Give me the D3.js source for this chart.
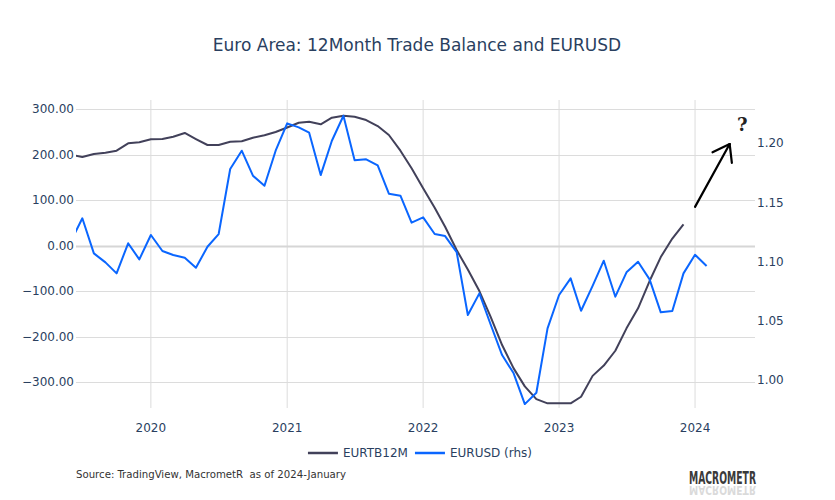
<!DOCTYPE html>
<html>
<head>
<meta charset="utf-8">
<script src="https://cdn.jsdelivr.net/npm/d3@7"></script>
<style>
  html, body { margin: 0; padding: 0; background: #fff; }
  svg { display: block; font-family: "DejaVu Sans", Verdana, sans-serif; }
</style>
</head>
<body>
<svg id="chart" width="835" height="500"></svg>
<script>
// ---------------- DATA ----------------
const usdMonths = [
  "2019-06","2019-07","2019-08","2019-09","2019-10","2019-11","2019-12",
  "2020-01","2020-02","2020-03","2020-04","2020-05","2020-06","2020-07","2020-08","2020-09","2020-10","2020-11","2020-12",
  "2021-01","2021-02","2021-03","2021-04","2021-05","2021-06","2021-07","2021-08","2021-09","2021-10","2021-11","2021-12",
  "2022-01","2022-02","2022-03","2022-04","2022-05","2022-06","2022-07","2022-08","2022-09","2022-10","2022-11","2022-12",
  "2023-01","2023-02","2023-03","2023-04","2023-05","2023-06","2023-07","2023-08","2023-09","2023-10","2023-11","2023-12",
  "2024-01","2024-02"
];
const eurusd = [
  1.1176, 1.1366, 1.1070, 1.0994, 1.0901, 1.1155, 1.1019,
  1.1225, 1.1090, 1.1056, 1.1033, 1.0948, 1.1126, 1.1233, 1.1782, 1.1937, 1.1726, 1.1641, 1.1937,
  1.2168, 1.2134, 1.2089, 1.1731, 1.2021, 1.2232, 1.1856, 1.1864, 1.1813, 1.1574, 1.1557, 1.1329,
  1.1374, 1.1233, 1.1216, 1.1081, 1.0549, 1.0732, 1.0471, 1.0211, 1.0057, 0.9797, 0.9893, 1.0437,
  1.0718, 1.0859, 1.0585, 1.0796, 1.1008, 1.0704, 1.0910, 1.0999, 1.0850, 1.0572, 1.0583, 1.0901,
  1.1058, 1.0963
];
const tbMonths = usdMonths.slice(0, 55); // 2019-06 .. 2023-12
const eurtb12m = [
  199.6, 194.5, 201.0, 204.0, 208.4, 224.6, 226.8,
  233.4, 234.0, 239.1, 247.3, 234.0, 220.9, 220.9, 228.1, 229.0, 236.9, 242.2, 249.5,
  259.3, 269.9, 272.1, 266.4, 280.9, 285.3, 283.1, 275.8, 262.6, 242.9, 208.4, 169.7,
  125.7, 83.1, 41.3, -9.9, -52.7, -100.0, -156.0, -218.7, -269.9, -309.5, -337.4, -346.8,
  -346.8, -346.8, -332.3, -286.4, -263.7, -231.2, -182.0, -138.0, -78.0, -25.3, 15.4,
  46.6
];
const leftTicks = [-300, -200, -100, 0, 100, 200, 300];
const rightTicks = [1.00, 1.05, 1.10, 1.15, 1.20];
const yearTicks = ["2020-01", "2021-01", "2022-01", "2023-01", "2024-01"];
const seriesNames = ["EURTB12M", "EURUSD (rhs)"];
// annotation arrow (date, left-axis value)
const arrowFrom = ["2024-01-01", 85];
const arrowTo = ["2024-04-03", 223];
const questionAt = ["2024-05-07", 265];

const titleText = "Euro Area: 12Month Trade Balance and EURUSD";
const sourceText = "Source: TradingView, MacrometR  as of 2024-January";
const logoText = "MACROMETR";

// ---------------- LAYOUT ----------------
const W = 835, H = 500;
const plot = { left: 76, right: 755, top: 100, bottom: 408 };
const colDark = "#42415a", colBlue = "#0a66ff", textCol = "#2a3f5f";
const parseM = d3.timeParse("%Y-%m");
const parseD = d3.timeParse("%Y-%m-%d");

const svg = d3.select("#chart");

const x = d3.scaleTime()
  .domain([parseD("2019-06-14"), parseD("2024-06-10")])
  .range([plot.left, plot.right]);
const yL = d3.scaleLinear().domain([-357, 319.8]).range([plot.bottom, plot.top]);
const yR = d3.scaleLinear().domain([0.9764, 1.2365]).range([plot.bottom, plot.top]);

// clip
svg.append("defs").append("clipPath").attr("id", "clip")
  .append("rect").attr("x", plot.left).attr("y", plot.top)
  .attr("width", plot.right - plot.left).attr("height", plot.bottom - plot.top);

// grid
const grid = svg.append("g");
grid.selectAll("line.v").data(yearTicks).join("line")
  .attr("x1", d => x(parseM(d))).attr("x2", d => x(parseM(d)))
  .attr("y1", plot.top).attr("y2", plot.bottom)
  .attr("stroke", "#dcdcdc").attr("stroke-width", 1);
grid.selectAll("line.h").data(leftTicks).join("line")
  .attr("x1", plot.left).attr("x2", plot.right)
  .attr("y1", d => Math.round(yL(d)) + 0.5).attr("y2", d => Math.round(yL(d)) + 0.5)
  .attr("stroke", d => d === 0 ? "#d6d6d6" : "#dcdcdc")
  .attr("stroke-width", d => d === 0 ? 2 : 1);

// axes labels
const fmtL = d3.format(",.2f"), fmtR = d3.format(".2f");
svg.append("g").selectAll("text").data(leftTicks).join("text")
  .attr("x", plot.left - 2).attr("y", d => yL(d)).attr("dy", "0.35em")
  .attr("text-anchor", "end").attr("font-size", 12).attr("fill", textCol)
  .text(d => fmtL(d));
svg.append("g").selectAll("text").data(rightTicks).join("text")
  .attr("x", plot.right + 2).attr("y", d => yR(d)).attr("dy", "0.35em")
  .attr("text-anchor", "start").attr("font-size", 12).attr("fill", textCol)
  .text(d => fmtR(d));
svg.append("g").selectAll("text").data(yearTicks).join("text")
  .attr("x", d => x(parseM(d))).attr("y", plot.bottom + 20).attr("dy", "0.35em")
  .attr("text-anchor", "middle").attr("font-size", 12).attr("fill", textCol)
  .text(d => d.slice(0, 4));

// lines
const g = svg.append("g").attr("clip-path", "url(#clip)");
const tbData = tbMonths.map((m, i) => ({ d: parseM(m), v: eurtb12m[i] }));
const usdData = usdMonths.map((m, i) => ({ d: parseM(m), v: eurusd[i] }));
g.append("path").datum(tbData)
  .attr("fill", "none").attr("stroke", colDark).attr("stroke-width", 2)
  .attr("stroke-linejoin", "round")
  .attr("d", d3.line().x(p => x(p.d)).y(p => yL(p.v)));
g.append("path").datum(usdData)
  .attr("fill", "none").attr("stroke", colBlue).attr("stroke-width", 2)
  .attr("stroke-linejoin", "round")
  .attr("d", d3.line().x(p => x(p.d)).y(p => yR(p.v)));

// arrow annotation
const ax1 = x(parseD(arrowFrom[0])), ay1 = yL(arrowFrom[1]);
const ax2 = x(parseD(arrowTo[0])), ay2 = yL(arrowTo[1]);
const ang = Math.atan2(ay2 - ay1, ax2 - ax1);
const hl = 19, spread = 0.62;
const arrow = svg.append("g").attr("stroke", "#000").attr("stroke-width", 2.2)
  .attr("stroke-linecap", "round").attr("fill", "none");
arrow.append("line").attr("x1", ax1).attr("y1", ay1).attr("x2", ax2).attr("y2", ay2);
arrow.append("line").attr("x1", ax2).attr("y1", ay2)
  .attr("x2", ax2 - hl * Math.cos(ang - spread)).attr("y2", ay2 - hl * Math.sin(ang - spread));
arrow.append("line").attr("x1", ax2).attr("y1", ay2)
  .attr("x2", ax2 - hl * Math.cos(ang + spread)).attr("y2", ay2 - hl * Math.sin(ang + spread));
svg.append("text").attr("x", x(parseD(questionAt[0]))).attr("y", yL(questionAt[1]))
  .attr("dy", "0.35em").attr("text-anchor", "middle")
  .attr("font-family", "'DejaVu Serif', serif").attr("font-weight", "bold")
  .attr("font-size", 18).attr("fill", "#222").text("?");

// title
svg.append("text").attr("x", 417).attr("y", 45).attr("dy", "0.35em")
  .attr("text-anchor", "middle").attr("font-size", 17).attr("fill", textCol)
  .text(titleText);

// legend
const leg = svg.append("g");
const legColors = [colDark, colBlue];
let lx = 0;
seriesNames.forEach((name, i) => {
  const it = leg.append("g").attr("transform", `translate(${lx},0)`);
  it.append("line").attr("x1", 0).attr("x2", 30).attr("y1", 0).attr("y2", 0)
    .attr("stroke", legColors[i]).attr("stroke-width", 2.5);
  const t = it.append("text").attr("x", 35).attr("y", 0).attr("dy", "0.35em")
    .attr("font-size", 12).attr("fill", textCol).text(name);
  lx += 35 + t.node().getComputedTextLength() + 7;
});
const legW = lx - 7;
leg.attr("transform", `translate(${420 - legW / 2},453)`);

// source
svg.append("text").attr("x", 76).attr("y", 474).attr("dy", "0.35em")
  .style("white-space", "pre")
  .attr("font-family", "'DejaVu Sans Condensed', 'DejaVu Sans', sans-serif")
  .attr("font-size", 11.3).attr("fill", "#333").text(sourceText);

// logo with faded reflection
const logo = svg.append("g");
logo.append("text").attr("x", 689).attr("y", 484)
  .attr("font-family", "'DejaVu Sans Condensed', 'DejaVu Sans', sans-serif")
  .attr("font-weight", "bold").attr("font-size", 17).attr("fill", "#3a3a3a")
  .attr("textLength", 67).attr("lengthAdjust", "spacingAndGlyphs").text(logoText);
logo.append("g").attr("transform", "translate(0,486) scale(1,-0.75)")
  .append("text").attr("x", 689).attr("y", 0)
  .attr("font-family", "'DejaVu Sans Condensed', 'DejaVu Sans', sans-serif")
  .attr("font-weight", "bold").attr("font-size", 17).attr("fill", "#3a3a3a")
  .attr("opacity", 0.18)
  .attr("textLength", 67).attr("lengthAdjust", "spacingAndGlyphs").text(logoText);
</script>
</body>
</html>
